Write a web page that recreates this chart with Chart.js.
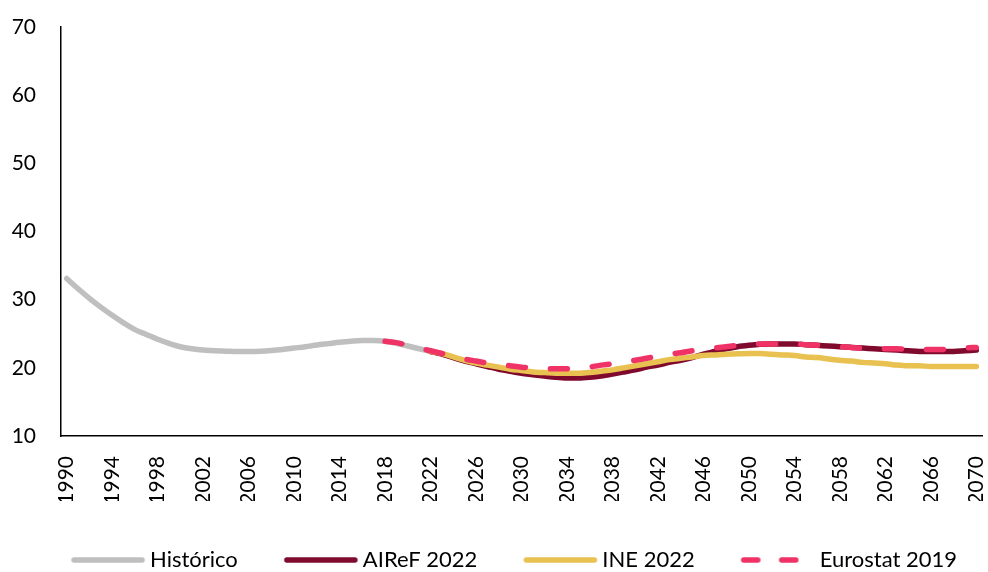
<!DOCTYPE html>
<html>
<head>
<meta charset="utf-8">
<script src="https://cdn.jsdelivr.net/npm/chart.js@4/dist/chart.umd.min.js"></script>
<style>
  html, body { margin: 0; padding: 0; background: #fff; }
  #wrap { width: 988px; height: 572px; }
</style>
</head>
<body>
<div id="wrap"><canvas id="c" width="988" height="572"></canvas></div>
<script>
// Years on the x axis
const firstYear = 1990;
const lastYear = 2070;
const years = [];
for (let y = firstYear; y <= lastYear; y++) years.push(String(y));

// Series
const historicoStart = 1990;
const historico = [33.1, 31.6, 30.2, 28.9, 27.7, 26.6, 25.6, 24.9, 24.2, 23.6,
  23.1, 22.8, 22.6, 22.5, 22.45, 22.4, 22.4, 22.45, 22.55, 22.7,
  22.9, 23.1, 23.35, 23.55, 23.75, 23.9, 24.0, 24.0, 23.9, 23.6,
  23.2, 22.8, 22.4];

const airefStart = 2022;
const airef2022 = [22.4, 22.0, 21.5, 21.0, 20.6, 20.2, 19.8, 19.5, 19.2, 19.0,
  18.8, 18.6, 18.5, 18.5, 18.6, 18.8, 19.1, 19.4, 19.7, 20.1,
  20.4, 20.8, 21.1, 21.5, 22.0, 22.4, 22.8, 23.1, 23.3, 23.45,
  23.5, 23.5, 23.5, 23.4, 23.3, 23.2, 23.1, 23.0, 22.9, 22.8,
  22.7, 22.6, 22.5, 22.4, 22.4, 22.4, 22.4, 22.5, 22.6];

const ineStart = 2022;
const ine2022 = [22.4, 22.1, 21.6, 21.1, 20.7, 20.4, 20.1, 19.8, 19.6, 19.4,
  19.3, 19.2, 19.2, 19.2, 19.3, 19.5, 19.7, 20.0, 20.3, 20.6,
  20.9, 21.2, 21.4, 21.6, 21.8, 21.9, 22.0, 22.05, 22.1, 22.1,
  22.0, 21.9, 21.8, 21.6, 21.5, 21.3, 21.1, 21.0, 20.8, 20.7,
  20.6, 20.4, 20.3, 20.3, 20.2, 20.2, 20.2, 20.2, 20.2];

const eurostatStart = 2018;
const eurostat2019 = [23.9, 23.7, 23.3, 22.9, 22.5, 22.1, 21.7, 21.3, 21.0, 20.7,
  20.5, 20.3, 20.1, 20.0, 19.9, 19.85, 19.85, 19.9, 20.1, 20.4,
  20.6, 20.9, 21.1, 21.4, 21.7, 22.0, 22.2, 22.5, 22.7, 22.9,
  23.1, 23.3, 23.4, 23.5, 23.5, 23.5, 23.5, 23.4, 23.3, 23.2,
  23.1, 23.0, 22.9, 22.9, 22.8, 22.8, 22.7, 22.7, 22.7, 22.7,
  22.8, 22.9, 23.0];

// Y ticks
const yMin = 10, yMax = 70, yStep = 10;
const xTickEvery = 4;

function place(start, values) {
  const out = years.map(() => null);
  values.forEach((v, i) => { out[start - firstYear + i] = v; });
  return out;
}

const FONT = 'Lato, "Open Sans", sans-serif';
const LINE_W = 5.5;

// legend sample: a short line (optionally dashed) drawn on a small canvas
function legendSample(color, dash) {
  const cv = document.createElement('canvas');
  cv.width = 80; cv.height = 10;
  const g = cv.getContext('2d');
  g.strokeStyle = color;
  g.lineWidth = LINE_W;
  g.lineCap = 'round';
  g.setLineDash(dash || []);
  g.beginPath();
  g.moveTo(8, 5);
  g.lineTo(76, 5);
  g.stroke();
  return cv;
}

// size/position tweaks for the legend box
const legendFitPlugin = {
  id: 'legendFit',
  beforeInit(chart) {
    const lg = chart.legend;
    if (!lg) return;
    const orig = lg.fit;
    lg.fit = function () {
      orig.call(this);
      this.height = 71;
    };
  },
  afterLayout(chart) {
    const lg = chart.legend;
    if (!lg) return;
    lg.left += 24;
    lg.right += 24;
  }
};

const ctx = document.getElementById('c').getContext('2d');
new Chart(ctx, {
  type: 'line',
  data: {
    labels: years,
    datasets: [
      { label: 'Histórico', data: place(historicoStart, historico), borderColor: '#BFBFBF', backgroundColor: '#BFBFBF', borderWidth: LINE_W, pointStyle: legendSample('#BFBFBF'), order: 3 },
      { label: 'AIReF 2022', data: place(airefStart, airef2022), borderColor: '#800A2E', backgroundColor: '#800A2E', borderWidth: LINE_W, pointStyle: legendSample('#800A2E'), order: 2 },
      { label: 'INE 2022', data: place(ineStart, ine2022), borderColor: '#E8C150', backgroundColor: '#E8C150', borderWidth: LINE_W, pointStyle: legendSample('#E8C150'), order: 1 },
      { label: 'Eurostat 2019', data: place(eurostatStart, eurostat2019), borderColor: '#F03366', backgroundColor: '#F03366', borderWidth: LINE_W, borderDash: [17, 25], pointStyle: legendSample('#F03366', [14, 24]), order: 0 }
    ]
  },
  plugins: [legendFitPlugin],
  options: {
    responsive: false,
    animation: false,
    devicePixelRatio: 1,
    layout: { padding: { left: 0, right: 6, top: 27, bottom: 0 } },
    elements: {
      line: { tension: 0.4, cubicInterpolationMode: 'monotone', borderCapStyle: 'round', borderJoinStyle: 'round', fill: false },
      point: { radius: 0, hoverRadius: 0 }
    },
    plugins: {
      tooltip: { enabled: false },
      legend: {
        position: 'bottom',
        labels: {
          usePointStyle: true,
          pointStyleWidth: 66,
          boxHeight: 20,
          padding: 48,
          color: '#000',
          font: { family: FONT, size: 22 },
          sort: (a, b) => a.datasetIndex - b.datasetIndex
        }
      }
    },
    scales: {
      x: {
        type: 'category',
        offset: true,
        grid: { display: false, drawTicks: true, tickLength: 18 },
        border: { display: true, color: '#000', width: 1.5 },
        afterFit(scale) {
          scale.height = 65;
          scale.paddingLeft = 0;
          scale.paddingRight = 0;
        },
        ticks: {
          autoSkip: false,
          minRotation: 90,
          maxRotation: 90,
          padding: 2,
          color: '#000',
          font: { family: FONT, size: 21 },
          callback: function (val, idx) {
            const y = firstYear + idx;
            return (y - firstYear) % xTickEvery === 0 ? String(y) : '';
          }
        }
      },
      y: {
        min: yMin,
        max: yMax,
        grid: { display: false, drawTicks: true, tickLength: 23 },
        border: { display: true, color: '#000', width: 1.5 },
        afterFit(scale) {
          scale.width = 61;
        },
        ticks: {
          stepSize: yStep,
          padding: 2,
          color: '#000',
          font: { family: FONT, size: 21 }
        }
      }
    }
  }
});
</script>
</body>
</html>
